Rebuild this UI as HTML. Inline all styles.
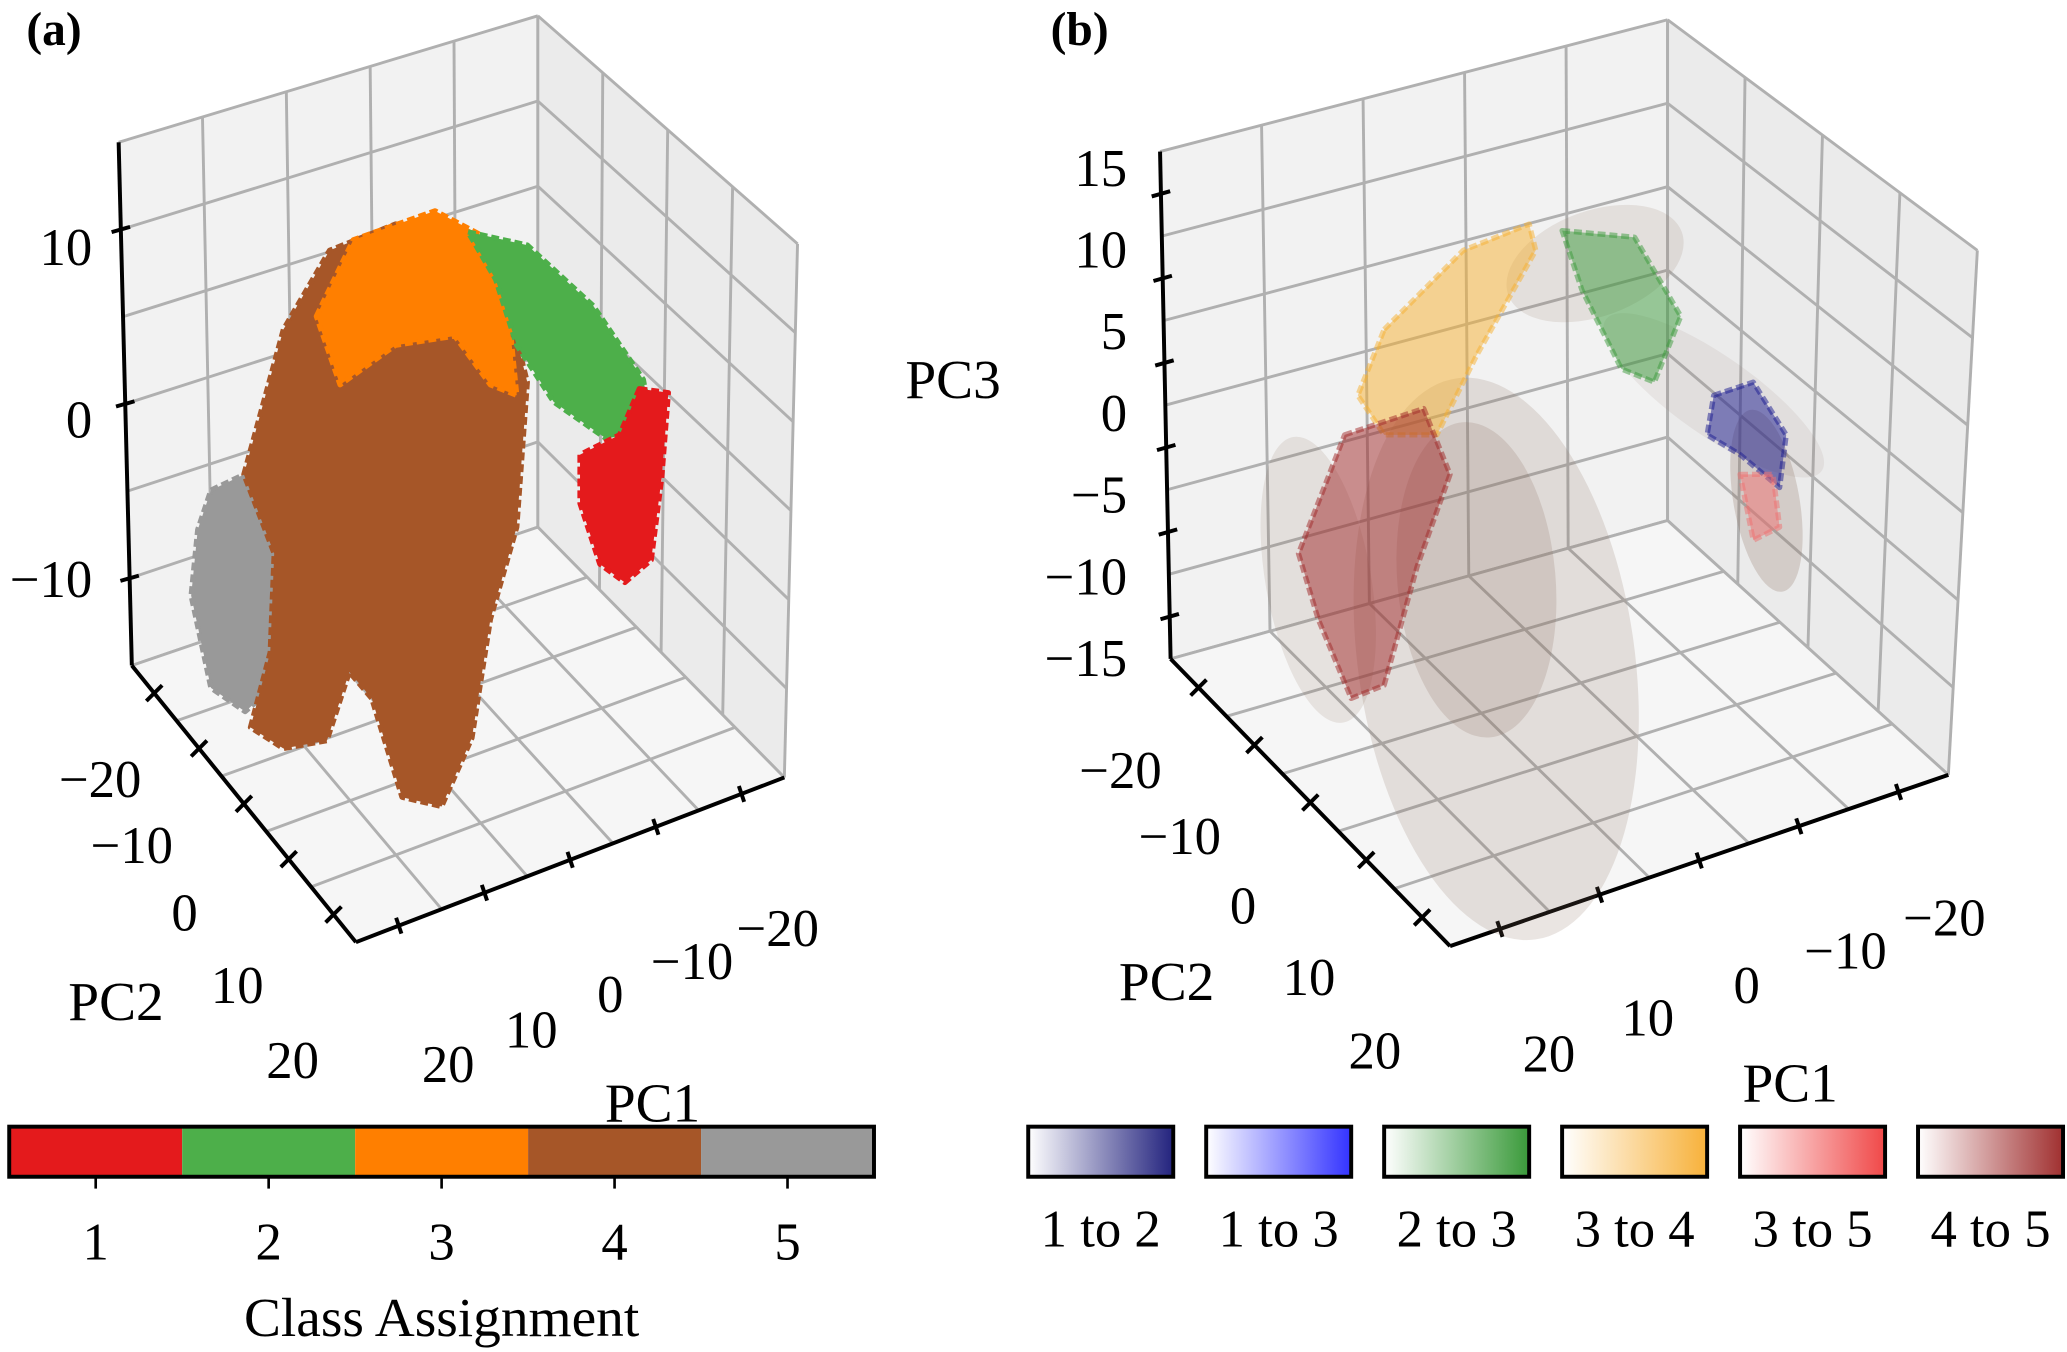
<!DOCTYPE html>
<html><head><meta charset="utf-8"><style>
html,body{margin:0;padding:0;background:#fff;}
svg{display:block;font-family:"Liberation Serif",serif;}
</style></head><body>
<svg id="fig" width="2067" height="1352" viewBox="0 0 1568 1026" preserveAspectRatio="none">
<g id="pa"></g>
<g id="pb"></g>
<text x="20" y="34" font-size="36" font-weight="bold">(a)</text>
<text x="797" y="34" font-size="36" font-weight="bold">(b)</text>
</svg>
<script>
// ---- data ----
const zTicksA = ["10","0","\u221210"];
const zTicksB = ["15","10","5","0","\u22125","\u221210","\u221215"];
const pc2Ticks = ["\u221220","\u221210","0","10","20"];
const pc1Ticks = ["20","10","0","\u221210","\u221220"];
const classLabels = ["1","2","3","4","5"];
const classColors = ["#e41a1c","#4daf4a","#ff7f00","#a65628","#999999"];
const transLabels = ["1 to 2","1 to 3","2 to 3","3 to 4","3 to 5","4 to 5"];
const transColors = ["#23237e","#3333ff","#3a9a3a","#f7b13a","#f04848","#a03030"];
const brownPts = [[185,360],[215,250],[250,190],[300,170],[345,175],[380,210],[400,290],[392,400],[372,470],[358,560],[335,612],[305,605],[282,530],[265,510],[248,562],[215,568],[190,552],[205,495],[208,420]];
const orangePts = [[240,240],[268,182],[330,160],[368,180],[385,230],[392,300],[372,292],[345,255],[300,262],[258,292]];
const greenPts = [[355,176],[400,186],[450,232],[488,288],[495,325],[460,333],[420,305],[392,262],[376,212]];
const redPts = [[485,295],[507,298],[502,362],[494,425],[474,442],[455,428],[440,382],[440,345],[470,330]];
const grayPts = [[160,372],[202,352],[248,345],[256,372],[240,412],[230,462],[220,510],[186,540],[160,522],[145,452],[150,402]];
const ellB = [[1135,500,105,215,-8,0.18],[1120,440,60,120,-5,0.2],[1000,440,40,110,-10,0.15],[1210,200,70,40,-20,0.15],[1340,380,25,70,-10,0.25],[1300,300,100,30,35,0.1]];
const smearB = [[[1050,250],[1110,190],[1160,170],[1165,190],[1120,270],[1090,330],[1050,330],[1030,300]],[[1185,175],[1240,180],[1275,240],[1255,290],[1230,280],[1200,220]],[[1300,300],[1330,290],[1355,330],[1350,370],[1320,345],[1295,330]],[[1020,330],[1080,310],[1100,360],[1075,430],[1050,520],[1025,530],[1000,470],[985,420]],[[1320,360],[1345,360],[1350,400],[1330,410]]];
const smearCols = ["#f5b030","#3a9a3a","#1a1a90","#a02828","#f07070"];

const NS="http://www.w3.org/2000/svg";
function mk(tag,attrs,parent){const e=document.createElementNS(NS,tag);for(const k in attrs)e.setAttribute(k,attrs[k]);parent.appendChild(e);return e;}
function lerp(a,b,t){return [a[0]+(b[0]-a[0])*t,a[1]+(b[1]-a[1])*t];}
function pane(g,c,fill,n1,n2){
  const p=mk('polygon',{points:c.map(p=>p.join(',')).join(' '),fill:fill,stroke:'none'},g);
  
  
  for(let i=0;i<=n1;i++){const t=i/n1;const a=lerp(c[0],c[1],t),b=lerp(c[3],c[2],t);
    const l=mk('line',{x1:a[0],y1:a[1],x2:b[0],y2:b[1],stroke:'#b0b0b0','stroke-width':2.2},g);
    
    }
  for(let i=0;i<=n2;i++){const t=i/n2;const a=lerp(c[0],c[3],t),b=lerp(c[1],c[2],t);
    const l=mk('line',{x1:a[0],y1:a[1],x2:b[0],y2:b[1],stroke:'#b0b0b0','stroke-width':2.2},g);
    
    }
}
function txt(g,x,y,s,size,anchor,name){const t=mk('text',{x:x,y:y,'font-size':size,'text-anchor':anchor||'middle'},g);t.textContent=s;
  
  return t;}
function axisLine(g,a,b,ticks,dx,dy,name){
  const l=mk('line',{x1:a[0],y1:a[1],x2:b[0],y2:b[1],stroke:'#000','stroke-width':3},g);
  
  
  for(let i=0;i<ticks;i++){const p=lerp(a,b,(i+0.5)/ticks);
    const t=mk('line',{x1:p[0]-dx,y1:p[1]-dy,x2:p[0]+dx,y2:p[1]+dy,stroke:'#000','stroke-width':3},g);
    
    }
}
function poly(g,pts,fill,op,name){const p=mk('polygon',{points:pts.map(p=>p.join(',')).join(' '),fill:fill,'fill-opacity':op,stroke:fill,'stroke-width':4,'stroke-opacity':op,'stroke-dasharray':'6 3','stroke-linejoin':'round'},g);
  
  }

// ---- panel a ----
const ga=document.getElementById('pa');
const A={tl:[90,108],tb:[408,12],tr:[605,185],bl:[100,505],bb:[408,400],bf:[270,715],br:[595,590]};
pane(ga,[A.tl,A.tb,A.bb,A.bl],'#f2f2f2',5,6);
pane(ga,[A.tb,A.tr,A.br,A.bb],'#ebebeb',4,6);
pane(ga,[A.bl,A.bb,A.br,A.bf],'#f6f6f6',5,5);
axisLine(ga,[90,108],[100,505],3,7,-2,'z-axis');
axisLine(ga,[100,505],[270,715],5,6,-6,'pc2-axis');
axisLine(ga,[270,715],[595,590],5,2,6,'pc1-axis');
zTicksA.forEach((s,i)=>txt(ga,70,[201,332,453][i],s,40,'end','z-tick-label'));
pc2Ticks.forEach((s,i)=>txt(ga,[76,100,140,180,222][i],[605,655,706,761,818][i],s,40,'middle','pc2-tick-label'));
pc1Ticks.forEach((s,i)=>txt(ga,[340,403,463,525,590][i],[821,795,768,743,718][i],s,40,'middle','pc1-tick-label'));
txt(ga,88,774,'PC2',42,'middle','pc2-axis-title');
txt(ga,495,851,'PC1',42,'middle','pc1-axis-title');
poly(ga,grayPts,classColors[4],1,'cluster-class-5');
poly(ga,brownPts,classColors[3],1,'cluster-class-4');
poly(ga,orangePts,classColors[2],1,'cluster-class-3');
poly(ga,greenPts,classColors[1],1,'cluster-class-2');
poly(ga,redPts,classColors[0],1,'cluster-class-1');
const cbw=656/classColors.length;
classColors.forEach((c,i)=>{const r=mk('rect',{x:7+i*cbw,y:855,width:cbw,height:38,fill:c},ga);
  
  
  const t=mk('line',{x1:7+(i+0.5)*cbw,y1:893,x2:7+(i+0.5)*cbw,y2:902,stroke:'#000','stroke-width':2},ga);
  
  
  txt(ga,7+(i+0.5)*cbw,956,classLabels[i],40,'middle','colorbar-tick-label');});
const cbo=mk('rect',{x:7,y:855,width:656,height:38,fill:'none',stroke:'#000','stroke-width':3},ga);


txt(ga,335,1014,'Class Assignment',42,'middle','colorbar-title');

// ---- panel b ----
const gb=document.getElementById('pb');
const B={tl:[880,115],tb:[1265,15],tr:[1500,190],bl:[888,500],bb:[1265,395],bf:[1100,718],br:[1478,588]};
pane(gb,[B.tl,B.tb,B.bb,B.bl],'#f2f2f2',5,6);
pane(gb,[B.tb,B.tr,B.br,B.bb],'#ebebeb',4,6);
pane(gb,[B.bl,B.bb,B.br,B.bf],'#f6f6f6',5,5);
axisLine(gb,[880,115],[888,500],6,7,-2,'z-axis');
axisLine(gb,[888,500],[1100,718],5,6,-6,'pc2-axis');
axisLine(gb,[1100,718],[1478,588],5,2,6,'pc1-axis');
zTicksB.forEach((s,i)=>txt(gb,855,141+i*62,s,40,'end','z-tick-label'));
pc2Ticks.forEach((s,i)=>txt(gb,[850,895,943,993,1043][i],[598,648,701,755,811][i],s,40,'middle','pc2-tick-label'));
pc1Ticks.forEach((s,i)=>txt(gb,[1175,1250,1325,1400,1475][i],[813,786,761,735,710][i],s,40,'middle','pc1-tick-label'));
txt(gb,885,759,'PC2',42,'middle','pc2-axis-title');
txt(gb,1358,836,'PC1',42,'middle','pc1-axis-title');
txt(gb,723,302,'PC3',42,'middle','pc3-axis-title');
ellB.forEach(e=>{const el=mk('ellipse',{cx:e[0],cy:e[1],rx:e[2],ry:e[3],transform:`rotate(${e[4]} ${e[0]} ${e[1]})`,fill:'#8a7060','fill-opacity':e[5]},gb);
  
  });
smearB.forEach((s,i)=>poly(gb,s,smearCols[i],0.5,'transition-points'));
const defs=mk('defs',{},document.getElementById('fig'));
transColors.forEach((c,i)=>{const lg=mk('linearGradient',{id:'g'+i,x1:0,x2:1,y1:0,y2:0},defs);
  mk('stop',{offset:0,'stop-color':'#fff'},lg);mk('stop',{offset:1,'stop-color':c},lg);
  const x=780+i*135;
  const r=mk('rect',{x:x,y:855,width:110,height:38,fill:`url(#g${i})`,stroke:'#000','stroke-width':3},gb);
  
  
  txt(gb,x+55,946,transLabels[i],40,'middle','transition-label');});
</script>
</body></html>
